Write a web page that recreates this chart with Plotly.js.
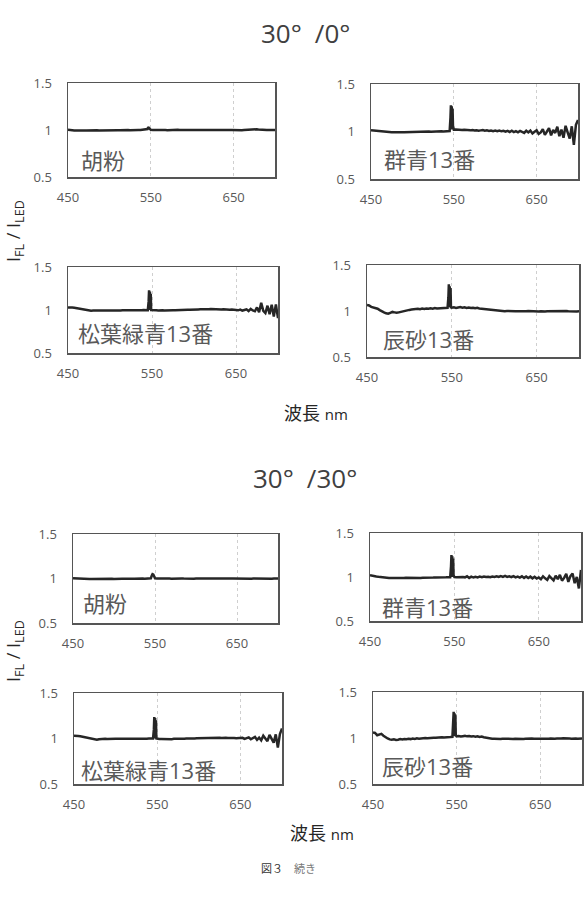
<!DOCTYPE html>
<html>
<head>
<meta charset="utf-8">
<script src="https://cdn.plot.ly/plotly-3.0.1.min.js"></script>
<style>html,body{margin:0;padding:0;background:#fff;}#chart{width:587px;height:901px;}</style>
</head>
<body>
<div id="chart"></div>
<script>
// ---- data ----
const wavelength = [450,452.5,455,457.5,460,462.5,465,467.5,470,472.5,
475,477.5,480,482.5,485,487.5,490,492.5,495,497.5,
500,502.5,505,507.5,510,512.5,515,517.5,520,522.5,
525,527.5,530,532.5,535,537.5,540,542.5,545,
546,546.5,547,547.5,548,548.5,549,
550,552.5,555,557.5,560,562.5,565,567.5,570,572.5,
575,577.5,580,582.5,585,587.5,590,592.5,595,597.5,
600,602.5,605,607.5,610,612.5,615,617.5,620,622.5,
625,627.5,630,632.5,635,637.5,640,642.5,645,647.5,
650,652.5,655,657.5,660,662.5,665,667.5,670,672.5,
675,677.5,680,682.5,685,687.5,690,692.5,695,697.5,
700];

const groupTitles = ['30°\u2002/0°', '30°\u2002/30°'];
const pigmentNames = ['胡粉', '群青13番', '松葉緑青13番', '辰砂13番'];
const xTickVals = [450, 550, 650];
const yTickVals = [0.5, 1, 1.5];
const yTickText = ['0.5', '1', '1.5'];

// 30°/0°
const gofun_30_0 = [1.002,0.998,0.996,0.994,0.995,0.993,0.995,0.996,0.994,0.995,
0.997,0.996,0.995,0.997,0.998,0.996,0.997,0.998,0.996,0.998,
0.999,0.997,0.998,0.999,0.998,0.997,0.999,0.998,1.000,0.999,
0.998,1.000,0.999,0.998,1.000,0.999,1.000,1.001,1.002,
1.010,1.022,1.027,1.024,1.020,1.012,1.004,
1.001,0.999,1.000,1.002,1.000,0.999,1.001,1.000,0.998,1.000,
1.001,0.999,1.000,1.002,1.000,0.998,0.999,1.001,1.000,0.999,
0.997,0.999,1.000,0.998,0.997,0.999,1.000,1.001,0.999,1.000,
1.002,1.001,0.999,1.000,1.001,0.999,0.997,0.998,1.000,1.001,
0.999,0.997,0.995,0.996,0.998,1.000,1.002,1.001,0.999,1.001,
1.004,1.007,1.005,1.002,1.000,0.999,1.001,0.999,0.998,1.000,
1.000];
const gunjo_30_0 = [1.012,1.010,1.004,1.000,0.998,0.996,0.995,0.994,0.993,0.992,
0.992,0.993,0.991,0.992,0.993,0.992,0.993,0.994,0.993,0.995,
0.994,0.996,0.995,0.997,0.996,0.998,0.997,0.998,0.999,0.998,
1.000,0.999,1.001,1.000,1.002,1.001,1.003,1.002,1.004,
1.150,1.275,1.020,1.265,1.040,1.240,1.060,
1.020,1.022,1.018,1.020,1.016,1.019,1.014,1.017,1.012,1.016,
1.010,1.014,1.008,1.012,1.015,1.008,1.012,1.006,1.011,1.004,
1.009,1.003,1.010,1.002,1.007,0.998,1.006,0.995,1.008,0.994,
1.004,0.992,1.006,0.995,0.985,1.008,0.990,1.010,0.980,0.998,
1.012,0.975,0.990,1.025,0.965,1.000,1.035,0.960,1.015,0.985,
1.050,0.950,1.020,0.935,1.060,0.990,0.925,1.055,0.860,1.070,
1.120];
const matsuba_30_0 = [1.030,1.032,1.028,1.025,1.020,1.016,1.010,1.004,1.000,0.996,
0.994,0.992,0.993,0.992,0.994,0.993,0.995,0.994,0.993,0.995,
0.994,0.996,0.995,0.994,0.996,0.995,0.997,0.996,0.995,0.997,
0.996,0.998,0.997,0.996,0.998,0.997,0.999,0.998,0.997,
1.100,1.230,1.000,1.215,1.010,1.190,1.000,
0.998,0.996,0.997,0.995,0.998,0.996,0.994,0.997,0.995,0.996,
0.998,0.997,0.999,1.000,1.002,1.001,1.003,1.004,1.002,1.005,
1.006,1.004,1.007,1.008,1.006,1.009,1.010,1.008,1.011,1.009,
1.010,1.008,1.010,1.006,1.009,1.005,1.007,1.004,1.006,1.002,
1.003,0.996,1.004,0.992,1.000,1.008,0.988,1.012,0.995,0.985,
1.030,0.975,1.085,0.990,0.965,1.050,0.950,1.060,0.925,1.065,
0.905];
const shinsha_30_0 = [1.065,1.060,1.045,1.040,1.030,1.025,1.010,0.995,0.985,0.975,
0.970,0.980,0.990,0.985,0.980,0.985,0.992,0.998,1.005,1.010,
1.012,1.016,1.020,1.018,1.024,1.020,1.026,1.022,1.028,1.025,
1.030,1.026,1.032,1.028,1.030,1.034,1.030,1.032,1.035,
1.150,1.290,1.040,1.270,1.050,1.250,1.040,
1.036,1.040,1.034,1.038,1.042,1.036,1.040,1.034,1.038,1.032,
1.036,1.030,1.034,1.028,1.025,1.022,1.018,1.015,1.012,1.010,
1.008,1.006,1.004,1.002,1.000,0.998,0.999,0.997,0.998,0.996,
0.998,0.997,0.999,0.998,0.996,0.998,0.999,0.997,0.998,0.996,
0.997,0.995,0.996,0.992,0.994,0.997,0.998,0.999,0.997,0.999,
1.000,0.998,1.001,0.999,1.000,0.998,0.996,0.999,0.997,0.995,
0.996];

// 30°/30°
const gofun_30_30 = [1.002,1.000,0.998,0.997,0.995,0.996,0.994,0.995,0.993,0.994,
0.995,0.993,0.994,0.996,0.995,0.994,0.996,0.995,0.997,0.996,
0.995,0.997,0.996,0.998,0.997,0.996,0.998,0.997,0.999,0.998,
0.997,0.999,0.998,1.000,0.999,0.998,1.000,1.001,1.003,
1.030,1.045,1.050,1.048,1.045,1.035,1.015,
1.002,1.000,1.001,0.999,1.000,1.002,1.000,0.999,0.998,1.000,
1.001,0.999,0.998,1.000,0.999,0.997,0.999,1.000,0.998,0.997,
0.999,1.000,0.998,0.999,1.001,1.000,0.998,0.999,1.000,0.999,
0.998,1.000,0.999,0.997,0.999,1.000,0.998,0.999,1.001,1.000,
0.999,1.001,1.003,1.000,0.998,0.999,0.997,0.998,1.000,0.999,
0.998,1.000,0.999,0.997,0.998,0.996,0.994,0.996,0.999,1.001,
0.999];
const gunjo_30_30 = [1.020,1.018,1.012,1.006,1.002,0.998,0.995,0.993,0.992,0.990,
0.989,0.988,0.990,0.989,0.988,0.990,0.989,0.991,0.990,0.989,
0.991,0.990,0.992,0.991,0.990,0.992,0.991,0.993,0.992,0.994,
0.993,0.995,0.994,0.996,0.995,0.997,0.996,0.998,0.997,
1.120,1.250,1.000,1.235,1.010,1.210,1.020,
1.000,0.998,1.001,0.997,1.000,0.996,1.008,0.990,1.004,0.994,
1.002,0.996,1.004,0.998,1.006,1.000,1.003,0.997,1.005,1.001,
1.008,1.000,1.010,1.002,1.012,1.001,1.008,0.998,1.010,0.996,
1.004,0.994,1.008,0.990,1.006,0.988,1.004,0.985,1.002,0.982,
0.995,0.975,1.008,0.985,0.968,1.010,0.990,0.962,1.015,0.975,
1.025,0.958,0.990,1.035,0.945,1.010,1.040,0.930,1.000,0.870,
1.080];
const matsuba_30_30 = [1.030,1.032,1.028,1.025,1.020,1.016,1.012,1.008,1.002,0.996,
0.990,0.986,0.992,0.995,0.994,0.996,0.995,0.997,0.996,0.995,
0.997,0.996,0.995,0.997,0.996,0.998,0.997,0.996,0.998,0.997,
0.996,0.998,0.997,0.999,0.998,0.997,0.999,0.998,1.000,
1.100,1.235,1.000,1.225,1.010,1.200,1.000,
0.996,0.994,0.995,0.993,0.996,0.994,0.995,0.993,0.996,0.995,
0.994,0.998,0.992,0.996,0.999,0.998,1.000,1.002,1.001,1.003,
1.004,1.002,1.005,1.006,1.004,1.007,1.008,1.006,1.009,1.007,
1.008,1.006,1.009,1.007,1.005,1.008,1.004,1.006,1.003,1.005,
1.002,1.008,0.996,1.004,1.012,0.992,1.006,1.018,0.985,1.010,
0.980,1.030,1.000,0.970,1.040,0.990,0.955,1.045,0.900,1.050,
1.110];
const shinsha_30_30 = [1.060,1.055,1.030,1.040,1.045,1.025,1.005,0.995,0.985,0.980,
0.985,0.978,0.982,0.988,0.984,0.990,0.986,0.992,0.988,0.994,
0.990,0.996,0.993,0.998,0.995,1.000,0.998,1.002,1.000,1.004,
1.002,1.006,1.004,1.008,1.006,1.010,1.008,1.010,1.012,
1.150,1.285,1.020,1.270,1.030,1.255,1.030,
1.018,1.022,1.016,1.020,1.024,1.018,1.022,1.016,1.020,1.014,
1.018,1.012,1.016,1.008,1.002,0.996,0.994,0.992,0.993,0.991,
0.992,0.990,0.993,0.991,0.992,0.994,0.992,0.990,0.993,0.991,
0.994,0.992,0.990,0.993,0.995,0.992,0.994,0.991,0.993,0.995,
0.993,0.991,0.994,0.996,0.992,0.994,0.990,0.993,0.995,0.992,
0.994,0.996,0.993,0.991,0.995,0.993,0.997,0.994,0.992,0.996,
0.994];

// ---- layout ----
const W = 587, H = 901;
const FONT = 'Open Sans, Noto Sans CJK JP, sans-serif';
const CJK = 'Noto Sans CJK JP, sans-serif';
const series = [gofun_30_0, gunjo_30_0, matsuba_30_0, shinsha_30_0,
                gofun_30_30, gunjo_30_30, matsuba_30_30, shinsha_30_30];
// plot boxes in px: [left, right, top, bottom]
const boxes = [[68,275,83,177],[371,578,84,179],[68,278,267,353],[367,579,265,357],
               [73,278,534,623],[370,581,533,621],[74,282,693,784],[373,582,692,784]];
const labelPos = [[79,160],[382,159],[76,333],[381,339],[81,603],[380,607],[79,770],[380,766]];

const px = x => x / W, py = y => 1 - y / H;
const traces = [];
const layout = {
  width: W, height: H, margin: {l:0, r:0, t:0, b:0},
  paper_bgcolor: '#fff', plot_bgcolor: '#fff', showlegend: false,
  font: {family: FONT, color: '#595959'},
  annotations: []
};
series.forEach((s, i) => {
  const k = i === 0 ? '' : String(i + 1);
  const b = boxes[i];
  traces.push({x: wavelength, y: s, xaxis: 'x' + k, yaxis: 'y' + k, type: 'scatter',
    mode: 'lines', line: {color: '#262626', width: 2.5}, hoverinfo: 'skip'});
  layout['xaxis' + k] = {domain: [px(b[0]), px(b[1])], anchor: 'y' + k, range: [450, 700],
    tickmode: 'array', tickvals: xTickVals, ticks: '', showgrid: true, gridcolor: '#cfcfcf',
    griddash: 'dot', gridwidth: 1, zeroline: false, showline: true, mirror: true,
    linecolor: '#555555', linewidth: 1.5, tickfont: {family: FONT, size: 13, color: '#595959'},
    ticklabelstandoff: 8, fixedrange: true};
  layout['yaxis' + k] = {domain: [py(b[3]), py(b[2])], anchor: 'x' + k, range: [0.5, 1.5],
    tickmode: 'array', tickvals: yTickVals, ticktext: yTickText, ticks: '', showgrid: false,
    zeroline: false, showline: true, mirror: true, linecolor: '#555555', linewidth: 1.5,
    tickfont: {family: FONT, size: 13, color: '#595959'}, ticklabelstandoff: 12, fixedrange: true};
  layout.annotations.push({text: pigmentNames[i % 4], xref: 'paper', yref: 'paper',
    x: px(labelPos[i][0]), y: py(labelPos[i][1]), xanchor: 'left', yanchor: 'middle',
    showarrow: false, font: {family: FONT, size: 22, color: '#595959'}});
});
// group titles
[[305, 33], [305, 478]].forEach((p, g) => {
  layout.annotations.push({text: groupTitles[g], xref: 'paper', yref: 'paper', x: px(p[0]), y: py(p[1]),
    xanchor: 'center', yanchor: 'middle', showarrow: false, font: {family: FONT, size: 26, color: '#404040'}});
});
// x-axis titles
[[316, 413], [322, 833]].forEach(p => {
  layout.annotations.push({text: '波長 <span style="font-size:15px">nm</span>', xref: 'paper', yref: 'paper',
    x: px(p[0]), y: py(p[1]), xanchor: 'center', yanchor: 'middle', showarrow: false,
    font: {family: FONT, size: 18, color: '#262626'}});
});
// y-axis titles
[[14, 231], [14, 651]].forEach(p => {
  layout.annotations.push({text: 'I<sub>FL</sub> / I<sub>LED</sub>', xref: 'paper', yref: 'paper',
    x: px(p[0]), y: py(p[1]), xanchor: 'center', yanchor: 'middle', textangle: -90, showarrow: false,
    font: {family: FONT, size: 18, color: '#262626'}});
});
// caption
layout.annotations.push({text: '図３\u3000<span style="color:#777">続き</span>', xref: 'paper', yref: 'paper',
  x: px(288), y: py(868), xanchor: 'center', yanchor: 'middle', showarrow: false,
  font: {family: CJK, size: 11, color: '#333'}});

Plotly.newPlot('chart', traces, layout, {staticPlot: true, displayModeBar: false});
</script>
</body>
</html>
